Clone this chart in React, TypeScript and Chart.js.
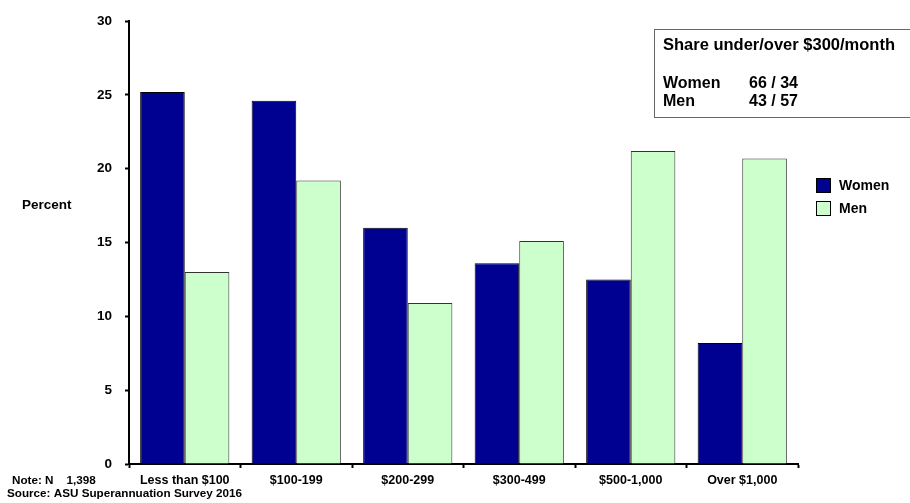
import React, { useEffect, useRef } from "react";
import { Chart, registerables } from "chart.js";

Chart.register(...registerables);

const categories = ["Less than $100", "$100-199", "$200-299", "$300-499", "$500-1,000", "Over $1,000"];
const women = [25.2, 24.6, 16.0, 13.6, 12.5, 8.2];
const men = [13.0, 19.2, 10.9, 15.1, 21.2, 20.7];
const yTicks = [0, 5, 10, 15, 20, 25, 30];
const boxTitle = "Share under/over $300/month";
const boxRows = [
  ["Women", "66 / 34"],
  ["Men", "43 / 57"],
];
const noteLines = ["Note: N    1,398", "Source: ASU Superannuation Survey 2016"];
const yTitle = "Percent";

const FONT = "Liberation Sans, Arial, sans-serif";
const WOMEN_COLOR = "#000091";
const MEN_COLOR = "#CCFFCC";

const extras = {
  id: "extras",
  afterDraw(chart: any) {
    const ctx = chart.ctx as CanvasRenderingContext2D;
    ctx.save();
    // y title
    ctx.fillStyle = "#000";
    ctx.font = `bold 13.5px ${FONT}`;
    ctx.textBaseline = "middle";
    ctx.textAlign = "left";
    ctx.fillText(yTitle, 22, 205);

    // legend
    const items = [
      { label: "Women", color: WOMEN_COLOR, y: 178 },
      { label: "Men", color: MEN_COLOR, y: 201 },
    ];
    for (const it of items) {
      ctx.fillStyle = it.color;
      ctx.fillRect(816.5, it.y + 0.5, 14, 14);
      ctx.strokeStyle = "#000";
      ctx.lineWidth = 1;
      ctx.strokeRect(816.5, it.y + 0.5, 14, 14);
      ctx.fillStyle = "#000";
      ctx.font = `bold 14px ${FONT}`;
      ctx.fillText(it.label, 839, it.y + 8);
    }

    // info box
    ctx.fillStyle = "#fff";
    ctx.fillRect(654.5, 29.5, 260, 88);
    ctx.strokeStyle = "#666";
    ctx.lineWidth = 1;
    ctx.strokeRect(654.5, 29.5, 260, 88);
    ctx.fillStyle = "#000";
    ctx.font = `bold 16.5px ${FONT}`;
    ctx.fillText(boxTitle, 663, 45);
    ctx.font = `bold 16px ${FONT}`;
    boxRows.forEach((r, i) => {
      const y = 84 + i * 17.5;
      ctx.fillText(r[0], 663, y);
      ctx.fillText(r[1], 749, y);
    });

    // notes
    ctx.font = `bold 11.7px ${FONT}`;
    ctx.fillText(noteLines[0], 12, 481);
    ctx.fillText(noteLines[1], 7, 494);
    ctx.restore();
  },
};

export default function App() {
  const ref = useRef<HTMLCanvasElement | null>(null);
  useEffect(() => {
    if (!ref.current) return;
    const chart = new Chart(ref.current, {
      type: "bar",
      data: {
        labels: categories,
        datasets: [
          {
            label: "Women",
            data: women,
            backgroundColor: WOMEN_COLOR,
            borderColor: "#000",
            borderWidth: 1,
            categoryPercentage: 0.8,
            barPercentage: 1.0,
          },
          {
            label: "Men",
            data: men,
            backgroundColor: MEN_COLOR,
            borderColor: "#333",
            borderWidth: 1,
            categoryPercentage: 0.8,
            barPercentage: 1.0,
          },
        ],
      },
      options: {
        responsive: false,
        animation: false,
        layout: { padding: { left: 0, right: 112, top: 20, bottom: 0 } },
        plugins: { legend: { display: false }, tooltip: { enabled: false } },
        scales: {
          x: {
            grid: { drawOnChartArea: false, drawTicks: true, tickLength: 4, tickColor: "#000", tickWidth: 2, offset: true },
            border: { color: "#000", width: 2 },
            ticks: { color: "#000", font: { family: FONT, size: 12.5, weight: "bold" }, padding: 5, maxRotation: 0, autoSkip: false },
            afterFit: (s: any) => { s.height = 39; },
          },
          y: {
            min: 0,
            max: 30,
            afterBuildTicks: (s: any) => { s.ticks = yTicks.map((v) => ({ value: v })); },
            grid: { drawOnChartArea: false, drawTicks: true, tickLength: 4, tickColor: "#000", tickWidth: 2 },
            border: { color: "#000", width: 2 },
            ticks: { color: "#000", font: { family: FONT, size: 13.5, weight: "bold" }, padding: 13 },
            afterFit: (s: any) => { s.width = 129; },
          },
        },
      },
      plugins: [extras],
    });
    return () => chart.destroy();
  }, []);
  return (
    <div style={{ position: "fixed", left: 0, top: 0, width: 910, height: 503, background: "#fff" }}>
      <canvas ref={ref} width={910} height={503} style={{ display: "block" }} />
    </div>
  );
}
